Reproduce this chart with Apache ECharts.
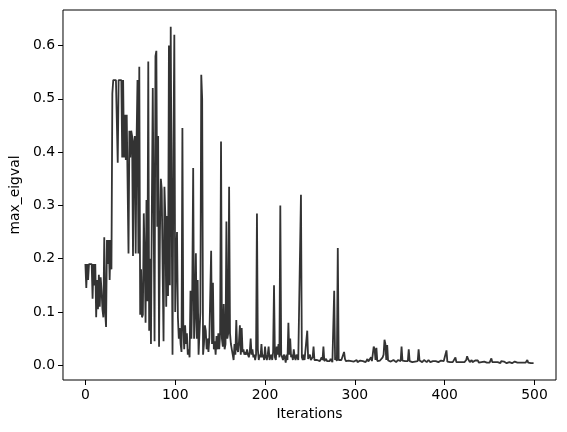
<!DOCTYPE html>
<html>
<head>
<meta charset="utf-8">
<script src="https://cdn.jsdelivr.net/npm/echarts@6/dist/echarts.min.js"></script>
<style>html,body{margin:0;padding:0;background:#fff}#c{width:567px;height:432px}</style>
</head>
<body>
<div id="c"></div>
<script>
const xTicks = [0, 100, 200, 300, 400, 500];
const yTicks = [0, 0.1, 0.2, 0.3, 0.4, 0.5, 0.6];
const xLabel = 'Iterations';
const yLabel = 'max_eigval';
const maxEigval = [
0.19,0.145,0.19,0.16,0.19,0.19,0.19,0.19,0.125,0.19,
0.15,0.19,0.09,0.16,0.105,0.17,0.11,0.165,0.14,0.105,
0.09,0.24,0.1,0.072,0.235,0.19,0.235,0.16,0.235,0.18,
0.51,0.535,0.535,0.535,0.535,0.535,0.38,0.535,0.535,0.535,
0.535,0.39,0.535,0.39,0.47,0.385,0.47,0.47,0.21,0.44,
0.39,0.44,0.43,0.205,0.42,0.43,0.21,0.425,0.535,0.21,
0.56,0.095,0.18,0.09,0.095,0.285,0.2,0.08,0.31,0.12,
0.57,0.065,0.2,0.04,0.3,0.52,0.52,0.045,0.58,0.59,
0.26,0.43,0.035,0.25,0.35,0.33,0.18,0.045,0.335,0.28,
0.11,0.28,0.13,0.6,0.15,0.635,0.3,0.02,0.4,0.62,
0.1,0.2,0.25,0.09,0.05,0.07,0.04,0.025,0.445,0.07,
0.03,0.075,0.04,0.06,0.02,0.03,0.015,0.14,0.05,0.145,
0.37,0.05,0.1,0.21,0.05,0.16,0.02,0.06,0.1,0.545,
0.5,0.02,0.04,0.075,0.065,0.03,0.05,0.025,0.05,0.05,
0.215,0.04,0.155,0.03,0.045,0.02,0.055,0.03,0.06,0.03,
0.06,0.42,0.05,0.035,0.115,0.03,0.04,0.27,0.05,0.06,
0.335,0.06,0.04,0.03,0.02,0.01,0.04,0.02,0.085,0.03,
0.025,0.045,0.075,0.02,0.07,0.025,0.03,0.02,0.025,0.02,
0.03,0.02,0.015,0.025,0.05,0.02,0.03,0.015,0.02,0.01,
0.02,0.285,0.03,0.01,0.02,0.015,0.04,0.015,0.02,0.01,
0.035,0.015,0.01,0.02,0.035,0.01,0.015,0.02,0.01,0.025,
0.15,0.015,0.01,0.035,0.02,0.04,0.015,0.3,0.02,0.015,
0.01,0.02,0.015,0.005,0.02,0.01,0.08,0.02,0.05,0.015,
0.02,0.01,0.03,0.015,0.01,0.02,0.015,0.01,0.012,0.01,
0.32,0.015,0.01,0.02,0.01,0.012,0.008,0.065,0.012,0.01,
0.02,0.01,0.008,0.015,0.035,0.01,0.008,0.012,0.01,0.009,
0.012,0.008,0.01,0.015,0.01,0.035,0.008,0.01,0.012,0.008,
0.006,0.01,0.008,0.012,0.01,0.006,0.008,0.14,0.01,0.015,
0.008,0.22,0.01,0.008,0.012,0.01,0.008,0.01,0.025,0.012,
0.008,0.01,0.006,0.009,0.007,0.01,0.008,0.006,0.009,0.007,
0.008,0.007,0.01,0.006,0.008,0.007,0.009,0.012,0.006,0.008,
0.007,0.009,0.006,0.008,0.012,0.007,0.009,0.006,0.015,0.008,
0.01,0.035,0.03,0.01,0.033,0.008,0.01,0.007,0.009,0.012,
0.008,0.015,0.02,0.048,0.04,0.01,0.038,0.009,0.008,0.01,
0.007,0.009,0.008,0.01,0.007,0.009,0.006,0.008,0.01,0.007,
0.009,0.008,0.035,0.009,0.007,0.01,0.008,0.006,0.009,0.008,
0.03,0.008,0.007,0.01,0.006,0.008,0.009,0.007,0.008,0.01,
0.008,0.03,0.009,0.007,0.01,0.006,0.008,0.01,0.007,0.009,
0.006,0.008,0.01,0.007,0.006,0.009,0.005,0.008,0.01,0.006,
0.008,0.007,0.01,0.006,0.008,0.005,0.009,0.007,0.006,0.008,
0.007,0.006,0.028,0.007,0.005,0.008,0.006,0.007,0.005,0.006,
0.008,0.006,0.015,0.006,0.005,0.007,0.006,0.005,0.007,0.006,
0.005,0.007,0.006,0.008,0.01,0.017,0.012,0.009,0.006,0.007,
0.01,0.006,0.008,0.005,0.009,0.007,0.006,0.009,0.005,0.008,
0.007,0.006,0.008,0.005,0.007,0.009,0.006,0.005,0.007,0.006,
0.005,0.008,0.013,0.006,0.005,0.007,0.006,0.005,0.008,0.006,
0.005,0.007,0.004,0.008,0.006,0.005,0.007,0.005,0.006,0.004,
0.007,0.005,0.006,0.008,0.005,0.004,0.006,0.005,0.007,0.004,
0.006,0.005,0.008,0.004,0.005,0.006,0.004,0.005,0.007,0.004,
0.005,0.006,0.01,0.005,0.004,0.006,0.004,0.005,0.004,0.004
];
const seriesData = maxEigval.map((v, i) => [i, v]);
const n = maxEigval.length;
const dMin = Math.min(...maxEigval), dMax = Math.max(...maxEigval);
const xPad = (n - 1) * 0.05, yPad = (dMax - dMin) * 0.05;
const font = 'DejaVu Sans';
const chart = echarts.init(document.getElementById('c'), null, {renderer: 'canvas'});
chart.setOption({
  animation: false,
  backgroundColor: '#ffffff',
  grid: {left: 60, right: 11, top: 10, bottom: 52, show: true, borderColor: '#000', borderWidth: 1, backgroundColor: 'transparent'},
  xAxis: {
    type: 'value', min: -xPad, max: n - 1 + xPad, position: 'bottom',
    name: xLabel, nameLocation: 'middle', nameGap: 26,
    nameTextStyle: {fontFamily: font, fontSize: 13.9, color: '#000'},
    axisLine: {show: false, onZero: false},
    axisTick: {show: true, length: 5, inside: false, lineStyle: {color: '#000', width: 1}, customValues: xTicks},
    axisLabel: {fontFamily: font, fontSize: 13.9, color: '#000', margin: 8, customValues: xTicks, formatter: v => String(v)},
    splitLine: {show: false}
  },
  yAxis: {
    type: 'value', min: dMin - yPad, max: dMax + yPad, position: 'left',
    name: yLabel, nameLocation: 'middle', nameGap: 37, nameRotate: 90,
    nameTextStyle: {fontFamily: font, fontSize: 13.9, color: '#000'},
    axisLine: {show: false, onZero: false},
    axisTick: {show: true, length: 5, inside: false, lineStyle: {color: '#000', width: 1}, customValues: yTicks},
    axisLabel: {fontFamily: font, fontSize: 13.9, color: '#000', margin: 8, customValues: yTicks, formatter: v => v.toFixed(1)},
    splitLine: {show: false}
  },
  series: [{
    type: 'line', data: seriesData, showSymbol: false, symbol: 'none', sampling: null,
    lineStyle: {color: '#333333', width: 1.8}, z: 2
  }]
});
</script>
</body>
</html>
